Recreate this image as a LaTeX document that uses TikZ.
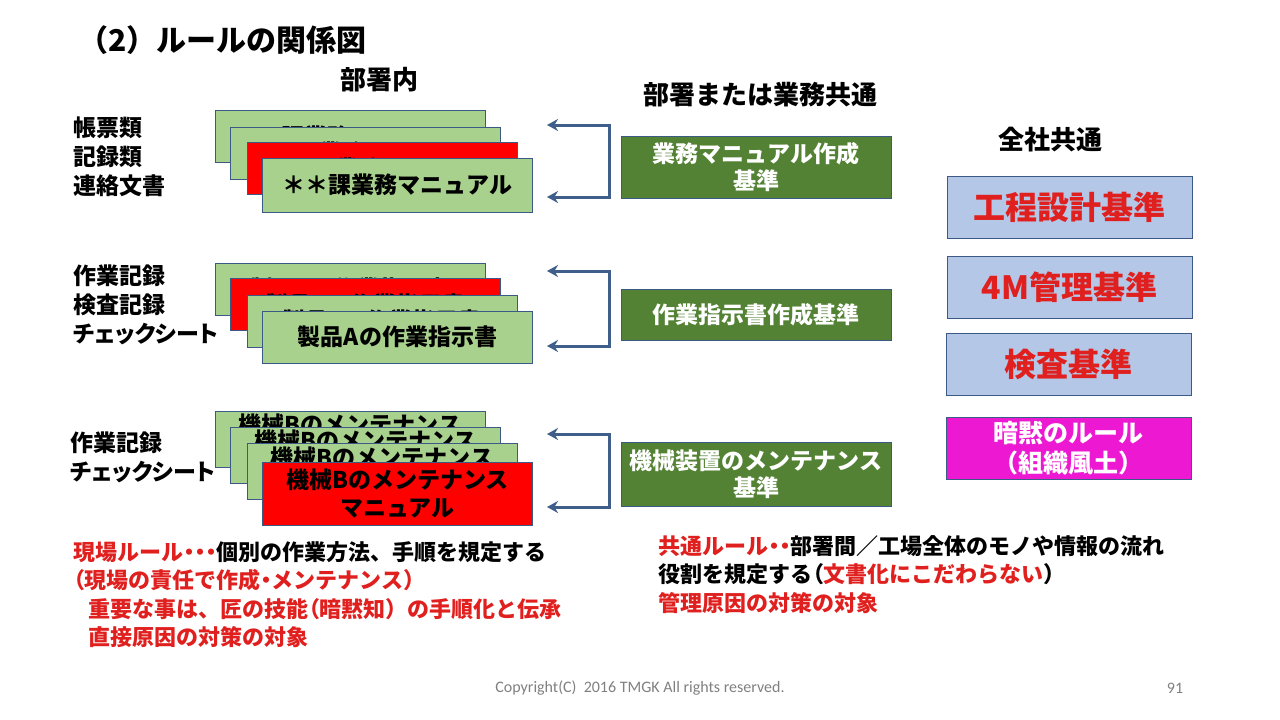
\documentclass[tikz,border=0pt]{standalone}
\usepackage{fontspec}
\setmainfont{Noto Sans CJK JP}
\newfontfamily\paltfont{Noto Sans CJK JP}[RawFeature=+palt]
\newfontfamily\footfont{Carlito}
\usetikzlibrary{arrows.meta}

\definecolor{lgreen}{HTML}{A9D18E}
\definecolor{dgreen}{HTML}{548235}
\definecolor{edgeblue}{HTML}{3B5A86}
\definecolor{arrowblue}{HTML}{3F5F8A}
\definecolor{lblue}{HTML}{B4C7E7}
\definecolor{txtred}{HTML}{E0201E}
\definecolor{magbox}{HTML}{EC18D2}

\tikzset{
  sheet/.style={draw=edgeblue, fill=lgreen, minimum width=270pt, minimum height=52pt,
    align=center, font=\fontsize{23}{28}\selectfont\bfseries},
  redsheet/.style={sheet, fill=red},
  rulebox/.style={draw=edgeblue, fill=dgreen, text=white, minimum width=270pt,
    align=center, font=\fontsize{23}{27}\selectfont\bfseries},
  basebox/.style={draw=edgeblue, fill=lblue, text=txtred, minimum width=245pt,
    minimum height=62pt, align=center, font=\fontsize{32}{36}\selectfont\bfseries},
  side/.style={anchor=west, align=left, font=\paltfont\fontsize{23}{29}\selectfont\bfseries},
  head/.style={font=\fontsize{26}{30}\selectfont\bfseries},
  note/.style={anchor=north west, align=left, font=\fontsize{22}{28.5}\selectfont\bfseries},
  foot/.style={text=gray, font=\footfont\fontsize{16}{18}\selectfont},
  back/.style={draw=arrowblue, line width=3pt, {Stealth[length=11pt,width=12pt]}-{Stealth[length=11pt,width=12pt]}}
}

\begin{document}
\begin{tikzpicture}[x=1pt, y=-1pt]
	\useasboundingbox (0,0) rectangle (1280,720);
	\node[anchor=west, font=\fontsize{30}{33}\selectfont\bfseries] (title) at (75,40) {（2）ルールの関係図};
	\node[head] (hdept) at (379,80) {部署内};
	\node[head] (hcommon) at (760,95) {部署または業務共通};
	\node[head] (hcorp) at (1050,140) {全社共通};

	\node[sheet] (m1) at (350,136.5) {＊＊課業務マニュアル};
	\node[sheet] (m2) at (365.5,153) {＊＊課業務マニュアル};
	\node[redsheet] (m3) at (382,168.5) {＊＊課業務マニュアル};
	\node[sheet, minimum height=54pt] (m4) at (397.5,185) {＊＊課業務マニュアル};
	\node[side] (lab1) at (70,157) {帳票類\\記録類\\連絡文書};

	\node[sheet] (w1) at (350,289) {製品Aの作業指示書};
	\node[redsheet] (w2) at (365.5,304.5) {製品Aの作業指示書};
	\node[sheet] (w3) at (382,321) {製品Aの作業指示書};
	\node[sheet] (w4) at (397.5,337) {製品Aの作業指示書};
	\node[side] (lab2) at (70,305) {作業記録\\検査記録\\チェックシート};

	\node[sheet] (k1) at (350,439) {機械Bのメンテナンス\\マニュアル};
	\node[sheet, minimum height=50pt] (k2) at (365.5,455) {機械Bのメンテナンス\\マニュアル};
	\node[sheet, minimum height=51pt] (k3) at (382,471.5) {機械Bのメンテナンス\\マニュアル};
	\node[redsheet, minimum height=63pt] (k4) at (397.5,493.5) {機械Bのメンテナンス\\マニュアル};
	\node[side] (lab3) at (67,457.5) {作業記録\\チェックシート};

	\node[rulebox, minimum height=62pt] (std1) at (756,167) {業務マニュアル作成\\基準};
	\node[rulebox, minimum height=51pt] (std2) at (756,314.5) {作業指示書作成基準};
	\node[rulebox, minimum height=64pt] (std3) at (756,474) {機械装置のメンテナンス\\基準};

	\coordinate (t1) at (547,125);
	\coordinate (u1) at (547,197);
	\coordinate (t2) at (547,271);
	\coordinate (u2) at (547,346);
	\coordinate (t3) at (547,434);
	\coordinate (u3) at (547,507);
	\draw[back] (t1) -- ++(62,0) |- (u1);
	\draw[back] (t2) -- ++(62,0) |- (u2);
	\draw[back] (t3) -- ++(62,0) |- (u3);

	\node[basebox] (c1) at (1069.5,207) {工程設計基準};
	\node[basebox] (c2) at (1069.5,287) {4M管理基準};
	\node[basebox] (c3) at (1068.5,364) {検査基準};
	\node[basebox, fill=magbox, text=white, font=\fontsize{25}{30}\selectfont\bfseries] (c4) at (1068.5,448) {暗黙のルール\\（組織風土）};

	\node[note] (note1) at (70,538)
		{\textcolor{txtred}{現場ルール{\paltfont ・・・}}個別の作業方法、手順を規定する\\
		 \textcolor{txtred}{{\paltfont （}現場の責任で作成{\paltfont ・}メンテナンス）}\\
		 \hspace*{15pt}\textcolor{txtred}{重要な事は、匠の技能{\paltfont （}暗黙知）の手順化と伝承}\\
		 \hspace*{15pt}\textcolor{txtred}{直接原因の対策の対象}};
	\node[note] (note2) at (655,532)
		{\textcolor{txtred}{共通ルール{\paltfont ・・}}部署間／工場全体のモノや情報の流れ\\
		 役割を規定する{\paltfont （}\textcolor{txtred}{文書化にこだわらない}）\\
		 \textcolor{txtred}{管理原因の対策の対象}};

	\node[foot] (copy) at (640,688) {Copyright(C)\ \ 2016 TMGK All rights reserved.};
	\node[foot] (page) at (1175,688) {91};
\end{tikzpicture}
\end{document}
